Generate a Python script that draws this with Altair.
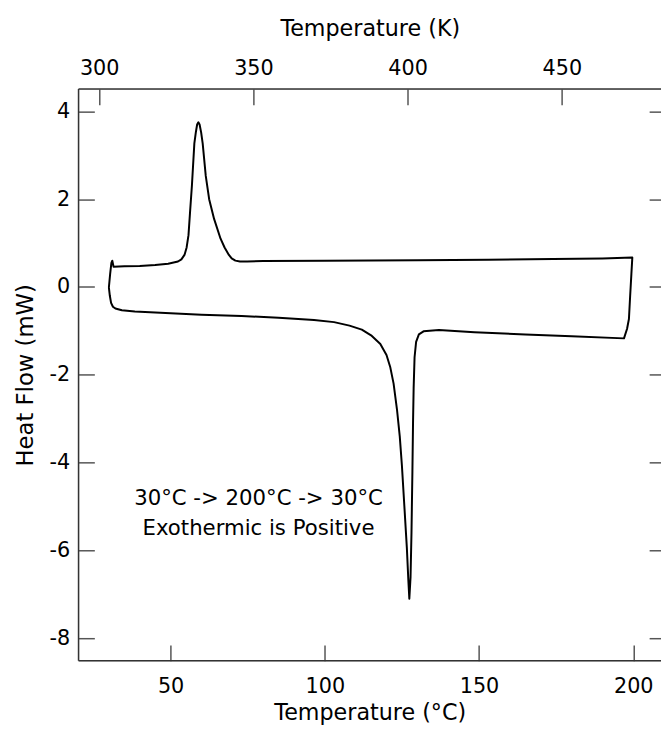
import altair as alt
import pandas as pd

FONT = "DejaVu Sans"

# Heating branch 30 -> 200 C (temperature in C, heat flow in mW)
heat_T = [30.0, 30.3, 30.7, 31.3, 32.1, 34.2, 38.4, 50.0, 60.0, 73.0, 85.0, 96.5, 103.0, 108.0,
          112.0, 115.0, 118.0, 120.0, 121.2, 122.3, 123.4, 124.3, 125.0, 125.8, 126.6, 127.1,
          127.4, 127.8, 128.1, 128.4, 128.6, 128.8, 129.1, 129.6, 130.5, 132.0, 137.0, 148.5,
          165.0, 180.0, 197.0, 198.0, 198.6, 199.0, 199.4, 199.7]
heat_Q = [-0.02, -0.2, -0.36, -0.45, -0.49, -0.53, -0.56, -0.6, -0.63, -0.66, -0.7, -0.75, -0.8,
          -0.88, -0.97, -1.1, -1.3, -1.55, -1.82, -2.2, -2.79, -3.4, -4.07, -5.0, -5.94, -6.7,
          -7.1, -6.6, -5.6, -4.2, -3.1, -2.3, -1.6, -1.25, -1.08, -1.01, -0.98, -1.03,
          -1.08, -1.12, -1.17, -0.95, -0.73, -0.2, 0.3, 0.67]

# Cooling branch 200 -> 30 C
cool_T = [199.7, 190.0, 174.0, 153.0, 130.0, 100.0, 80.0, 74.8, 72.5, 71.0, 69.8, 68.9, 67.5,
          66.2, 64.1, 62.5, 61.4, 60.4, 59.9, 59.4, 59.0, 58.6, 58.2, 57.7, 56.9, 56.3, 55.8,
          55.2, 54.5, 53.5, 52.4, 49.2, 45.0, 40.0, 35.0, 31.5, 31.1, 30.8, 30.4, 30.0]
cool_Q = [0.67, 0.65, 0.64, 0.62, 0.61, 0.6, 0.59, 0.58, 0.58, 0.6, 0.65, 0.73, 0.9,
          1.10, 1.55, 2.0, 2.53, 3.27, 3.52, 3.7, 3.75, 3.7, 3.53, 3.27, 2.30, 1.7, 1.18,
          0.9, 0.73, 0.63, 0.58, 0.53, 0.5, 0.48, 0.47, 0.46, 0.6, 0.55, 0.3, 0.0]

c_ticks = [50, 100, 150, 200]
k_ticks = [300, 350, 400, 450]
q_ticks = [-8, -6, -4, -2, 0, 2, 4]

ann_text = ["30°C -> 200°C -> 30°C", "Exothermic is Positive"]
ann_T = [78.5, 78.5]
ann_Q = [-4.97, -5.65]

T = heat_T + cool_T
Q = heat_Q + cool_Q
df = pd.DataFrame({"T": T, "Q": Q, "order": list(range(len(T)))})
ann = pd.DataFrame({"T": ann_T, "Q": ann_Q, "text": ann_text})
k_pos = [k - 273.15 for k in k_ticks]

W, H = 589.6, 578.8
xscale = alt.Scale(domain=[20.15, 209.0], nice=False, zero=False)
yscale = alt.Scale(domain=[-8.51, 4.51], nice=False, zero=False)

TICK = dict(tickColor="#555", tickWidth=1.5, domain=False, grid=False,
            labelFont=FONT, titleFont=FONT, labelColor="black", titleColor="black",
            titleFontWeight="normal")

line = alt.Chart(df).mark_line(color="black", strokeWidth=2, strokeCap="round",
                               strokeJoin="round").encode(
    x=alt.X("T:Q", scale=xscale, axis=alt.Axis(
        orient="bottom", values=c_ticks, title="Temperature (°C)", offset=-16, tickSize=16,
        labelPadding=15, titlePadding=6, labelFontSize=21, titleFontSize=22.5, **TICK)),
    y=alt.Y("Q:Q", scale=yscale, axis=alt.Axis(
        orient="left", values=q_ticks, title="Heat Flow (mW)", offset=-16, tickSize=16,
        labelPadding=9, titlePadding=12, labelFontSize=21, titleFontSize=23,
        labelExpr="datum.value + ''", **TICK)),
    order="order:Q",
)

ghost = alt.Chart(df).mark_line(opacity=0).encode(
    x=alt.X("T:Q", scale=xscale, axis=alt.Axis(
        orient="top", values=k_pos, title="Temperature (K)", offset=-16, tickSize=16,
        labelPadding=11, titlePadding=17, labelFontSize=21, titleFontSize=22.5,
        labelExpr="format(datum.value + 273.15, '.0f')", **TICK)),
    y=alt.Y("Q:Q", scale=yscale, axis=alt.Axis(
        orient="right", values=q_ticks, title=None, labels=False, offset=-12, tickSize=12,
        **TICK)),
    order="order:Q",
)

text = alt.Chart(ann).mark_text(font=FONT, fontSize=21.5, color="black", align="center",
                                baseline="alphabetic").encode(
    x=alt.X("T:Q", scale=xscale, axis=None),
    y=alt.Y("Q:Q", scale=yscale, axis=None),
    text="text:N",
)

frame_data = alt.Data(values=[{"k": 0}])
fl = alt.Chart(frame_data).mark_rule(color="#333", strokeWidth=1.5).encode(
    x=alt.value(0), y=alt.value(0), y2=alt.value(H))
ft = alt.Chart(frame_data).mark_rule(color="#333", strokeWidth=1.5).encode(
    x=alt.value(0), x2=alt.value(W), y=alt.value(0))
fb = alt.Chart(frame_data).mark_rule(color="#333", strokeWidth=1.5).encode(
    x=alt.value(0), x2=alt.value(W), y=alt.value(H))

chart = alt.layer(fl, ft, fb, line, ghost, text).resolve_axis(
    x="independent", y="independent"
).properties(
    width=W, height=H,
    autosize=alt.AutoSizeParams(type="none"),
    padding={"left": 71.4, "top": 77.5, "right": 0, "bottom": 66},
).configure_view(stroke=None).configure(background="white")

chart.save("out.html", embed_options={"renderer": "svg", "actions": False})
